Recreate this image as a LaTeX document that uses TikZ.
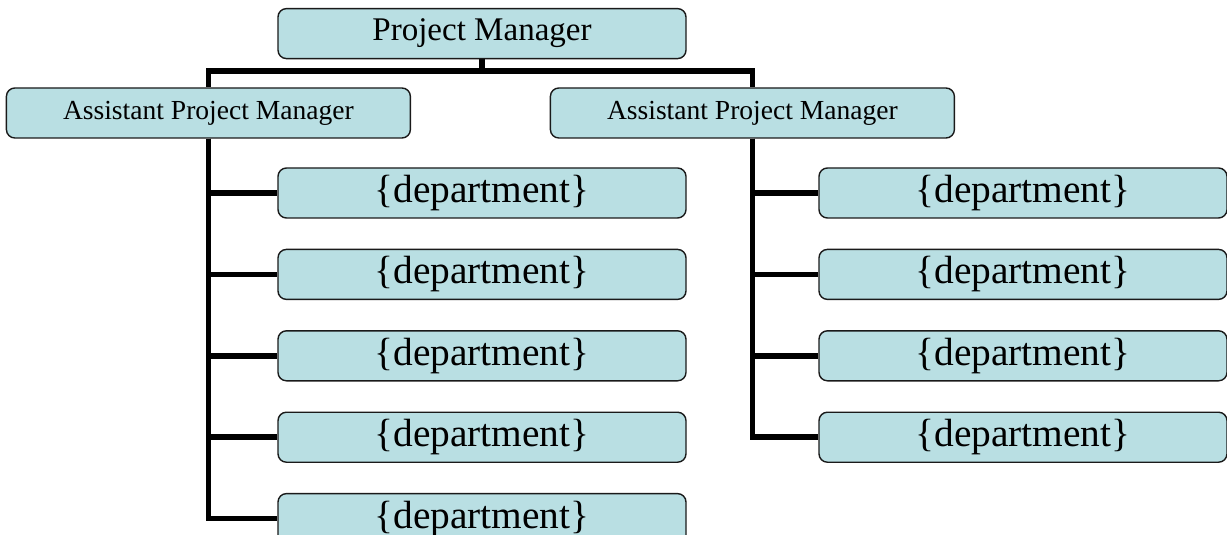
\documentclass[tikz,border=0pt]{standalone}
\usepackage{fontspec}
\setmainfont{Liberation Serif}
\usepackage{xcolor}
\usepackage{tikz}
\usetikzlibrary{positioning,backgrounds}
\definecolor{boxfill}{HTML}{B9DFE3}
\definecolor{boxline}{HTML}{1A1A1A}

\begin{document}
\begin{tikzpicture}[
  node distance=0.75cm,
  box/.style={draw=boxline, line width=1pt, rounded corners=6pt, fill=boxfill,
              align=center, inner sep=0pt, minimum height=1.25cm},
  head/.style={box, minimum width=10.2cm, font=\fontsize{23.5}{26}\selectfont},
  asst/.style={box, minimum width=10.1cm, font=\fontsize{19.6}{22}\selectfont},
  dept/.style={box, minimum width=10.2cm, font=\fontsize{28}{30}\selectfont},
  conn/.style={line width=4pt, draw=black}
]
  \useasboundingbox (0,0) rectangle (30.675,-13.375);

  \node[head] (pm) at (12.05,-0.84) {Project Manager};
  \node[asst] (apmL) at (5.21,-2.825) {Assistant Project Manager};
  \node[asst] (apmR) at (18.81,-2.825) {Assistant Project Manager};

  \node[dept] (dL1) at (12.05,-4.825) {\{department\}};
  \node[dept, below=of dL1] (dL2) {\{department\}};
  \node[dept, below=of dL2] (dL3) {\{department\}};
  \node[dept, below=of dL3] (dL4) {\{department\}};
  \node[dept, below=of dL4] (dL5) {\{department\}};

  \node[dept] (dR1) at (25.575,-4.825) {\{department\}};
  \node[dept, below=of dR1] (dR2) {\{department\}};
  \node[dept, below=of dR2] (dR3) {\{department\}};
  \node[dept, below=of dR3] (dR4) {\{department\}};

  \begin{scope}[on background layer]
  \draw[conn] (pm.south) -- ++(0,-0.3) coordinate (bar) -| (apmL.north);
  \draw[conn] (bar) -| (apmR.north);

  \draw[conn] (apmL.south) |- (dL1.west);
  \draw[conn] (apmL.south) |- (dL2.west);
  \draw[conn] (apmL.south) |- (dL3.west);
  \draw[conn] (apmL.south) |- (dL4.west);
  \draw[conn] (apmL.south) |- (dL5.west);

  \draw[conn] (apmR.south) |- (dR1.west);
  \draw[conn] (apmR.south) |- (dR2.west);
  \draw[conn] (apmR.south) |- (dR3.west);
  \draw[conn] (apmR.south) |- (dR4.west);
  \end{scope}
\end{tikzpicture}
\end{document}
